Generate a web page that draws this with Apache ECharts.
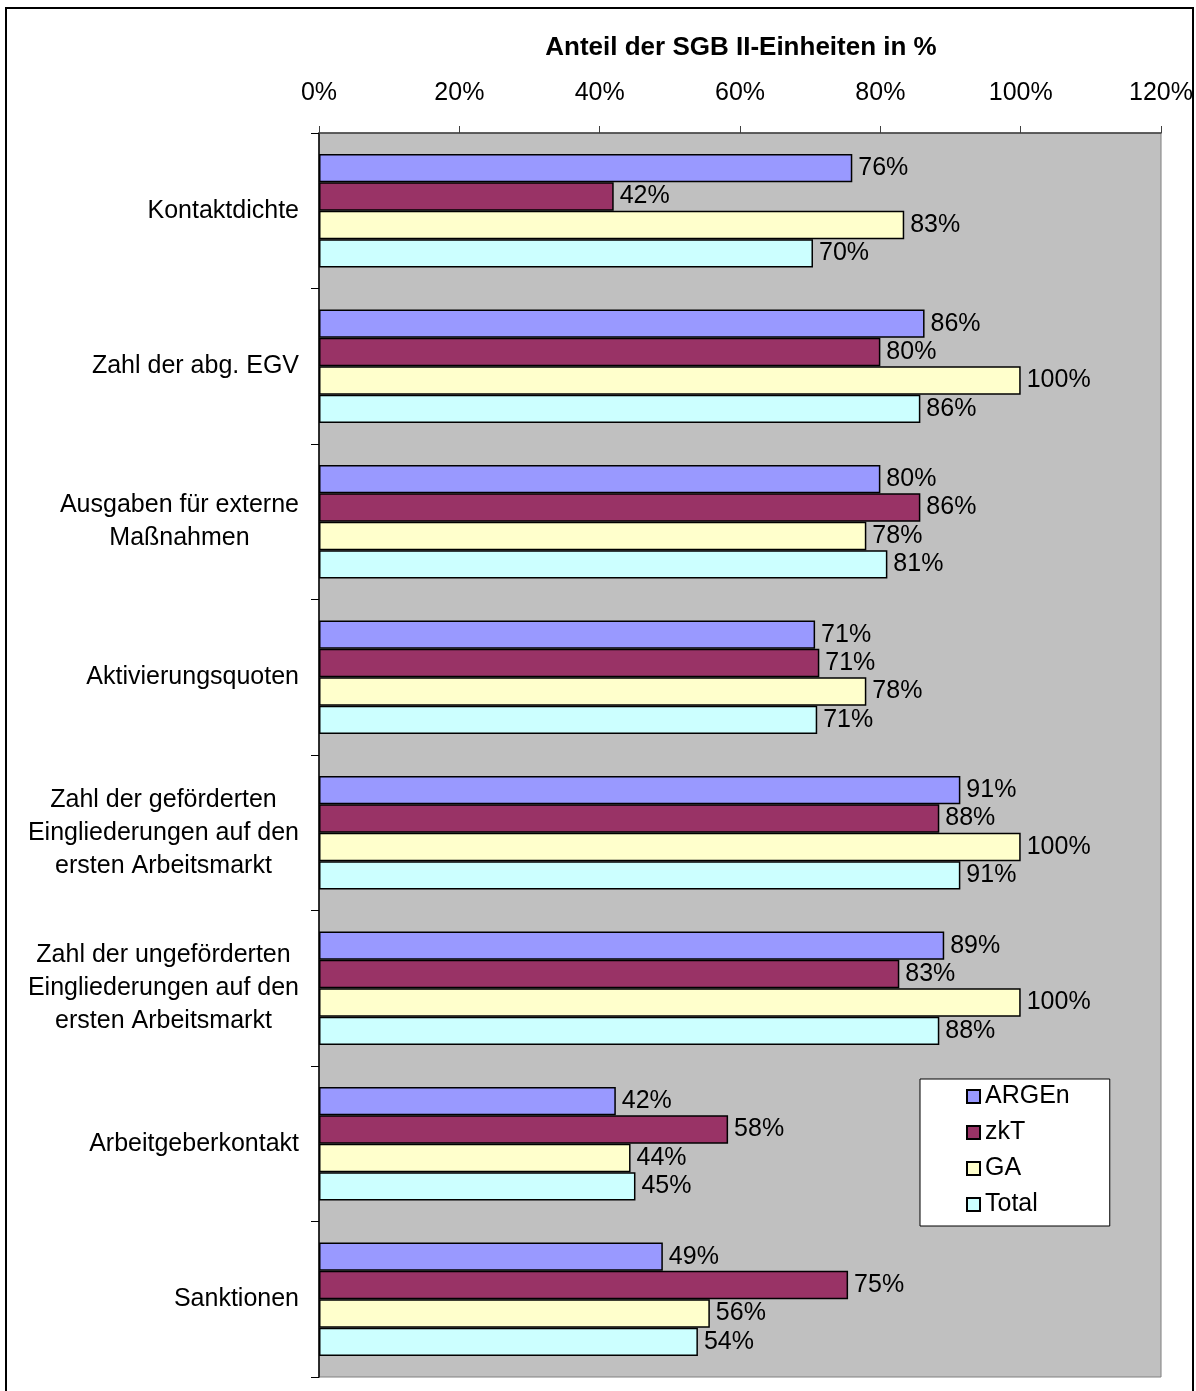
<!DOCTYPE html>
<html>
<head>
<meta charset="utf-8">
<script src="https://cdn.jsdelivr.net/npm/echarts@6/dist/echarts.min.js"></script>
<style>
html, body { margin: 0; padding: 0; background: #fff; }
#chart { width: 1196px; height: 1391px; }
</style>
</head>
<body>
<div id="chart"></div>
<script>
// Kategorien (von oben nach unten)
var categories = [
	'Kontaktdichte',
	'Zahl der abg. EGV',
	'Ausgaben für externe\nMaßnahmen',
	'Aktivierungsquoten',
	'Zahl der geförderten\nEingliederungen auf den\nersten Arbeitsmarkt',
	'Zahl der ungeförderten\nEingliederungen auf den\nersten Arbeitsmarkt',
	'Arbeitgeberkontakt',
	'Sanktionen'
];
var seriesNames = ['ARGEn', 'zkT', 'GA', 'Total'];
var argen = [76, 86.3, 80, 70.7, 91.4, 89.1, 42.3, 49];
var zkt = [42, 80, 85.7, 71.3, 88.4, 82.7, 58.3, 75.4];
var ga = [83.4, 100, 78, 78, 100, 100, 44.4, 55.7];
var total = [70.4, 85.7, 81, 71, 91.4, 88.4, 45.1, 54];
var tickValues = [0, 20, 40, 60, 80, 100, 120];

var colors = ['#9999FF', '#993366', '#FFFFCC', '#CCFFFF'];
var font = '"Liberation Sans", Arial, sans-serif';

function makeSeries(name, data, color) {
	return {
		name: name,
		type: 'bar',
		data: data,
		barGap: '0%',
		barCategoryGap: '27%',
		itemStyle: {
			color: color,
			borderColor: '#000',
			borderWidth: 1.5
		},
		label: {
			show: true,
			position: 'right',
			distance: 6,
			color: '#000',
			fontFamily: font,
			fontSize: 25,
			formatter: function (p) {
				return Math.round(p.value) + '%';
			}
		}
	};
}

var chart = echarts.init(document.getElementById('chart'));
var option = {
	animation: false,
	backgroundColor: '#fff',
	textStyle: { fontFamily: font },
	title: {
		text: 'Anteil der SGB II-Einheiten in %',
		left: 741,
		top: 35,
		padding: 0,
		textAlign: 'center',
		textStyle: {
			fontFamily: font,
			fontSize: 26,
			fontWeight: 'bold',
			color: '#000'
		}
	},
	graphic: [
		{
			type: 'rect',
			shape: { x: 6, y: 8, width: 1187, height: 1400 },
			style: { fill: 'none', stroke: '#000', lineWidth: 2 },
			silent: true
		}
	],
	legend: {
		orient: 'vertical',
		left: 920,
		top: 1079,
		backgroundColor: '#fff',
		borderColor: '#000',
		borderWidth: 1,
		padding: [5, 40, 9, 46],
		itemWidth: 13,
		itemHeight: 13,
		itemGap: 11,
		icon: 'rect',
		data: seriesNames,
		textStyle: {
			fontFamily: font,
			fontSize: 25,
			color: '#000'
		}
	},
	grid: {
		left: 319,
		top: 133,
		width: 843,
		height: 1244,
		show: true,
		backgroundColor: '#C0C0C0',
		borderColor: '#808080',
		borderWidth: 1
	},
	xAxis: {
		type: 'value',
		position: 'top',
		min: tickValues[0],
		max: tickValues[tickValues.length - 1],
		interval: tickValues[1] - tickValues[0],
		axisLine: { show: true, lineStyle: { color: '#404040', width: 1.5 } },
		axisTick: { show: true, length: 7, lineStyle: { color: '#404040' } },
		splitLine: { show: false },
		axisLabel: {
			margin: 27,
			color: '#000',
			fontFamily: font,
			fontSize: 25,
			formatter: '{value}%'
		}
	},
	yAxis: {
		type: 'category',
		inverse: true,
		data: categories,
		axisLine: { show: true, lineStyle: { color: '#000', width: 1.5 } },
		axisTick: { show: true, length: 8, lineStyle: { color: '#000' } },
		axisLabel: {
			margin: 20,
			color: '#000',
			formatter: function (v) {
				return v.split('\n').map(function (s) {
					return '{c|' + s + '}';
				}).join('\n');
			},
			rich: {
				c: {
					align: 'center',
					fontFamily: font,
					fontSize: 25,
					lineHeight: 33,
					color: '#000'
				}
			}
		}
	},
	series: [
		makeSeries(seriesNames[0], argen, colors[0]),
		makeSeries(seriesNames[1], zkt, colors[1]),
		makeSeries(seriesNames[2], ga, colors[2]),
		makeSeries(seriesNames[3], total, colors[3])
	]
};
chart.setOption(option);
</script>
</body>
</html>
